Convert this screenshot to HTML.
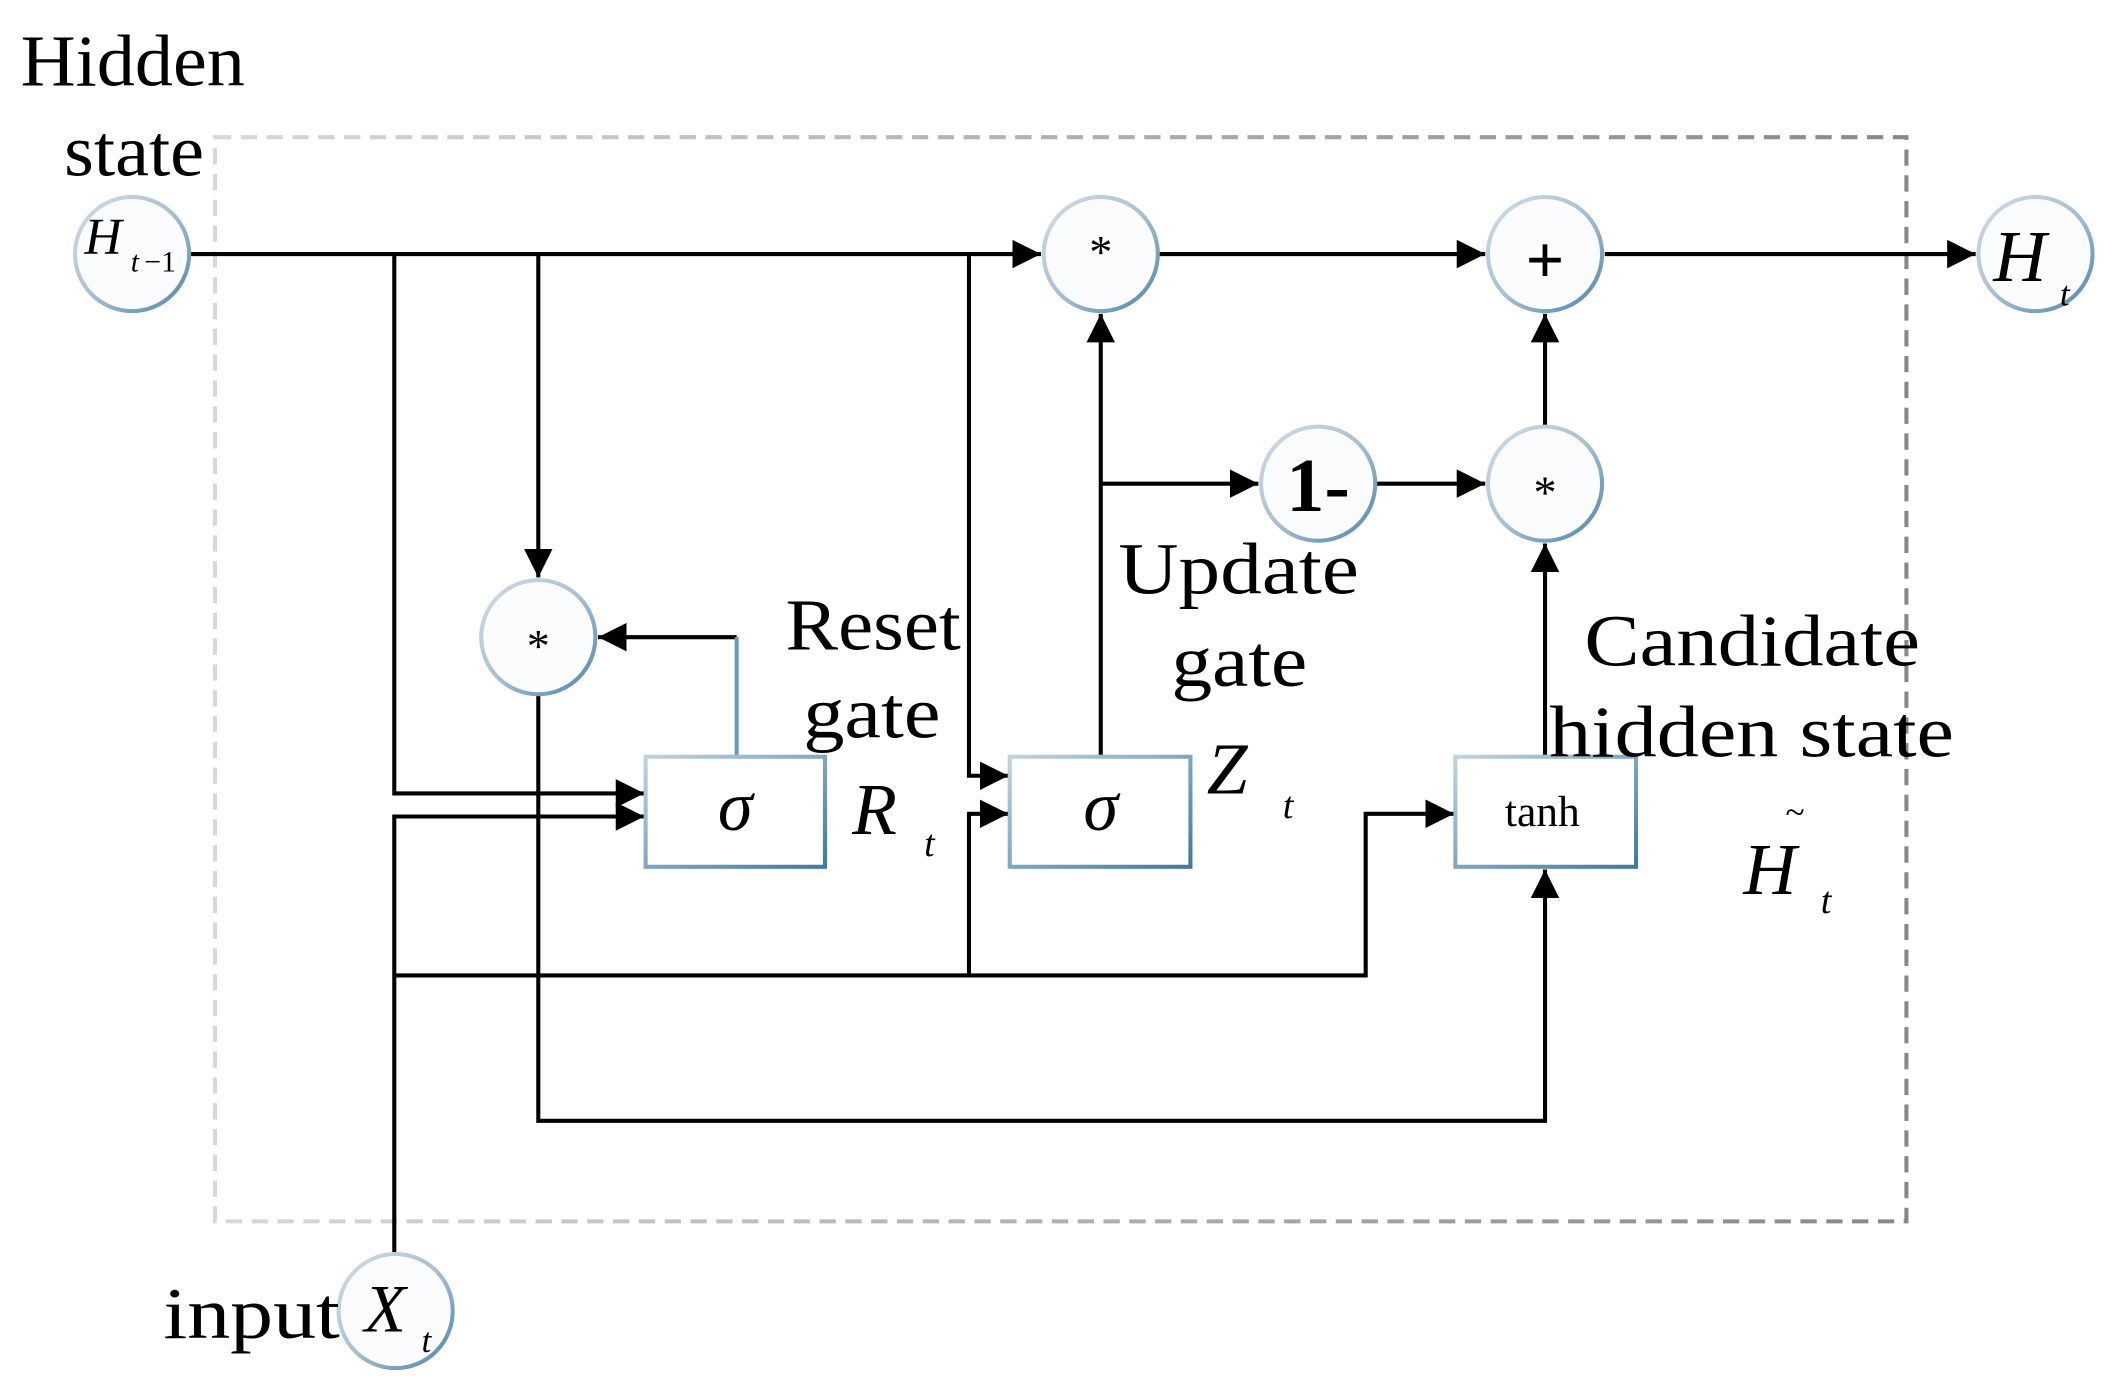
<!DOCTYPE html>
<html><head><meta charset="utf-8"><style>html,body{margin:0;padding:0;background:#fff}svg{display:block}</style></head>
<body>
<svg width="2120" height="1398" viewBox="0 0 1560 1029" xmlns="http://www.w3.org/2000/svg" font-family="'Liberation Serif', serif">
<defs>
<linearGradient id="cg" x1="0" y1="0" x2="1" y2="1"><stop offset="0" stop-color="#d3dde8"/><stop offset="0.5" stop-color="#a9bfd2"/><stop offset="1" stop-color="#4f84a8"/></linearGradient>
<linearGradient id="bg" x1="0" y1="0" x2="1" y2="1"><stop offset="0" stop-color="#c2d2e0"/><stop offset="1" stop-color="#3f7aa2"/></linearGradient>
<linearGradient id="dg" x1="0" y1="0" x2="1" y2="0"><stop offset="0" stop-color="#d8d8d8"/><stop offset="1" stop-color="#888"/></linearGradient>
<marker id="a" viewBox="0 0 10 10" refX="10" refY="5" markerWidth="7" markerHeight="7" markerUnits="strokeWidth" orient="auto"><path d="M0,0L10,5L0,10z" fill="#000"/></marker>
</defs>
<rect x="158" y="101" width="1245" height="798" fill="none" stroke="url(#dg)" stroke-width="3" stroke-dasharray="12,7"/>
<g stroke="#000" stroke-width="3" fill="none">
<line x1="140" y1="187" x2="766" y2="187" marker-end="url(#a)"/>
<line x1="853" y1="187" x2="1093" y2="187" marker-end="url(#a)"/>
<line x1="1181" y1="187" x2="1454" y2="187" marker-end="url(#a)"/>
<polyline points="290,187 290,584 474,584" marker-end="url(#a)"/>
<polyline points="290,922 290,601 474,601" marker-end="url(#a)"/>
<line x1="396" y1="187" x2="396" y2="425" marker-end="url(#a)"/>
<polyline points="713,187 713,571 742,571" marker-end="url(#a)"/>
<polyline points="713,718 713,599 742,599" marker-end="url(#a)"/>
<polyline points="290,718 1005,718 1005,599 1070,599" marker-end="url(#a)"/>
<polyline points="396,512 396,825 1137,825 1137,640" marker-end="url(#a)"/>
<line x1="542" y1="469" x2="440" y2="469" marker-end="url(#a)"/>
<line x1="810" y1="558" x2="810" y2="231" marker-end="url(#a)"/>
<line x1="810" y1="356" x2="926" y2="356" marker-end="url(#a)"/>
<line x1="1013" y1="356" x2="1093" y2="356" marker-end="url(#a)"/>
<line x1="1137" y1="313" x2="1137" y2="231" marker-end="url(#a)"/>
<line x1="1137" y1="558" x2="1137" y2="400" marker-end="url(#a)"/>
</g>
<line x1="542" y1="469" x2="542" y2="557" stroke="#6f9abb" stroke-width="3"/>
<g fill="#fff" stroke="url(#bg)" stroke-width="3">
<rect x="475" y="557" width="132" height="81"/>
<rect x="743" y="557" width="133" height="81"/>
<rect x="1071" y="557" width="133" height="81"/>
</g>
<g fill="#fbfcfd" stroke="url(#cg)" stroke-width="3">
<circle cx="97" cy="187" r="42"/>
<circle cx="810" cy="187" r="42"/>
<circle cx="1137" cy="187" r="42"/>
<circle cx="1498" cy="187" r="42"/>
<circle cx="970" cy="356" r="42"/>
<circle cx="1137" cy="356" r="42"/>
<circle cx="396" cy="469" r="42"/>
<circle cx="291" cy="965" r="42"/>
</g>
<g fill="#000" font-size="54">
<text x="15" y="63" textLength="165" lengthAdjust="spacingAndGlyphs">Hidden</text>
<text x="47" y="129" textLength="103" lengthAdjust="spacingAndGlyphs">state</text>
<text x="578" y="478" textLength="129" lengthAdjust="spacingAndGlyphs">Reset</text>
<text x="591" y="543" textLength="101" lengthAdjust="spacingAndGlyphs">gate</text>
<text x="823" y="437" textLength="177" lengthAdjust="spacingAndGlyphs">Update</text>
<text x="862" y="505" textLength="100" lengthAdjust="spacingAndGlyphs">gate</text>
<text x="1166" y="490" textLength="247" lengthAdjust="spacingAndGlyphs">Candidate</text>
<text x="1140" y="557" textLength="298" lengthAdjust="spacingAndGlyphs">hidden state</text>
<text x="120" y="985" textLength="130" lengthAdjust="spacingAndGlyphs">input</text>
</g>
<g fill="#000" text-anchor="middle">
<text x="810" y="197" font-size="34">*</text>
<text x="1137" y="208" font-size="50" font-weight="bold">+</text>
<text x="1137" y="374" font-size="34">*</text>
<text x="396" y="487" font-size="34">*</text>
<text x="970" y="376" font-size="56" font-weight="bold">1-</text>
<text x="541" y="611" font-size="52" font-style="italic">σ</text>
<text x="810" y="611" font-size="52" font-style="italic">σ</text>
<text x="1135" y="608" font-size="32">tanh</text>
</g>
<g fill="#000" font-style="italic">
<text x="62" y="187" font-size="38">H</text>
<text x="96" y="200" font-size="22">t</text><text x="106" y="200" font-size="22" font-style="normal">−1</text>
<text x="1467" y="207" font-size="54">H</text>
<text x="1516" y="225" font-size="26">t</text>
<text x="268" y="980" font-size="50">X</text>
<text x="310" y="995" font-size="26">t</text>
<text x="627" y="614" font-size="54">R</text>
<text x="680" y="630" font-size="28">t</text>
<text x="888" y="584" font-size="54">Z</text>
<text x="944" y="602" font-size="28">t</text>
<text x="1283" y="658" font-size="54">H</text>
<text x="1340" y="672" font-size="28">t</text>
<text x="1314" y="606" font-size="26" font-style="normal">~</text>
</g>
</svg>
</body></html>
